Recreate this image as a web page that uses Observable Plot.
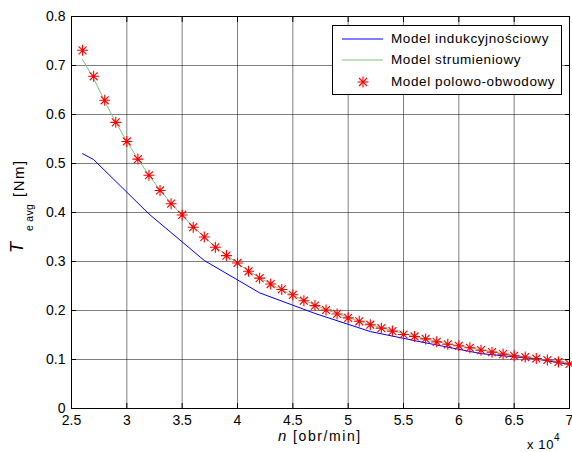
<!DOCTYPE html>
<html>
<head>
<meta charset="utf-8">
<script src="https://cdn.jsdelivr.net/npm/d3@7"></script>
<script src="https://cdn.jsdelivr.net/npm/@observablehq/plot@0.6"></script>
<style>
  html, body { margin: 0; padding: 0; background: #fff; }
  #wrap { position: relative; width: 572px; height: 452px; font-family: "Liberation Sans", Arial, sans-serif; }
  #legend { position: absolute; left: 332px; top: 25px; width: 230px; height: 70px; border: 1px solid #000; background: #fff; box-sizing: border-box; font-size: 13.5px; letter-spacing: 0.6px; color: #000; }
  #legend .row { position: absolute; left: 0; height: 20px; }
  #legend .row span { position: absolute; left: 58px; top: 1px; white-space: nowrap; line-height: 18px; }
</style>
</head>
<body>
<div id="wrap"></div>
<script>
// Speed n (x 10^4 obr/min)
const nRed = [2.6,2.7,2.8,2.9,3.0,3.1,3.2,3.3,3.4,3.5,3.6,3.7,3.8,3.9,4.0,4.1,4.2,4.3,4.4,4.5,4.6,4.7,4.8,4.9,5.0,5.1,5.2,5.3,5.4,5.5,5.6,5.7,5.8,5.9,6.0,6.1,6.2,6.3,6.4,6.5,6.6,6.7,6.8,6.9,7.0];
// Model polowo-obwodowy (stars)
const tRed = [0.731,0.678,0.629,0.584,0.545,0.509,0.476,0.445,0.418,0.395,0.370,0.350,0.329,0.312,0.297,0.280,0.266,0.254,0.243,0.232,0.220,0.210,0.201,0.193,0.185,0.178,0.171,0.164,0.158,0.151,0.147,0.142,0.136,0.131,0.128,0.124,0.119,0.115,0.111,0.1075,0.105,0.102,0.099,0.095,0.091];
// Model strumieniowy (green line)
const nGreen = nRed;
const tGreen = [0.712,0.674,0.627,0.584,0.545,0.509,0.476,0.446,0.419,0.394,0.371,0.350,0.330,0.313,0.296,0.281,0.267,0.254,0.242,0.231,0.221,0.211,0.202,0.194,0.186,0.178,0.171,0.165,0.159,0.153,0.147,0.142,0.137,0.132,0.128,0.124,0.120,0.116,0.112,0.109,0.105,0.102,0.099,0.096,0.093];
// Model indukcyjnościowy (blue line)
const nBlue = [2.6,2.7,3.2,3.7,4.2,4.7,5.2,5.7,6.2,6.7,7.0];
const tBlue = [0.520,0.508,0.397,0.302,0.236,0.194,0.157,0.134,0.112,0.101,0.090];

const xTicks = [2.5,3,3.5,4,4.5,5,5.5,6,6.5,7];
const yTicks = [0,0.1,0.2,0.3,0.4,0.5,0.6,0.7,0.8];
const seriesNames = ["Model indukcyjnościowy","Model strumieniowy","Model polowo-obwodowy"];
const seriesColors = ["#0000ff","#80c080","#ff0000"];

const red = nRed.map((n,i)=>({n, t:tRed[i]}));
const green = nGreen.map((n,i)=>({n, t:tGreen[i]}));
const blue = nBlue.map((n,i)=>({n, t:tBlue[i]}));

const starSymbol = {
  draw(ctx, size) {
    const r = Math.sqrt(size / Math.PI);
    const d = r * 0.72;
    ctx.moveTo(-r, 0); ctx.lineTo(r, 0);
    ctx.moveTo(0, -r); ctx.lineTo(0, r);
    ctx.moveTo(-d, -d); ctx.lineTo(d, d);
    ctx.moveTo(-d, d); ctx.lineTo(d, -d);
  }
};

const fmt = d => String(d);

const chart = Plot.plot({
  width: 572,
  height: 452,
  marginLeft: 71,
  marginRight: 3,
  marginTop: 16,
  marginBottom: 44,
  style: {fontFamily: "'Liberation Sans', Arial, sans-serif", fontSize: "14px", background: "#fff", color: "#000"},
  x: {domain: [2.5, 7]},
  y: {domain: [0, 0.8]},
  marks: [
    Plot.gridX(xTicks, {stroke: "#000", strokeOpacity: 0.5}),
    Plot.gridY(yTicks, {stroke: "#000", strokeOpacity: 0.5}),
    Plot.line(blue, {x: "n", y: "t", stroke: seriesColors[0], strokeWidth: 1}),
    Plot.line(green, {x: "n", y: "t", stroke: seriesColors[1], strokeWidth: 1}),
    Plot.dot(red, {x: "n", y: "t", symbol: starSymbol, r: 5.5, stroke: seriesColors[2], strokeWidth: 1.1, fill: "none"}),
    Plot.axisX(xTicks, {anchor: "bottom", tickSize: -5, tickPadding: 12, tickFormat: fmt, label: null, fontSize: 14}),
    Plot.axisX(xTicks, {anchor: "top", tickSize: -5, tickFormat: () => "", label: null}),
    Plot.axisY(yTicks, {anchor: "left", tickSize: -5, tickPadding: 11, tickFormat: fmt, label: null, fontSize: 14}),
    Plot.axisY(yTicks, {anchor: "right", tickSize: -5, tickFormat: () => "", label: null}),
    Plot.frame({stroke: "#000", strokeWidth: 1})
  ]
});

const wrap = document.getElementById("wrap");
wrap.appendChild(chart);

// Axis labels (rich text)
const svg = d3.select(chart);
const lab = svg.append("g").attr("text-anchor", "start").attr("fill", "#000");
lab.append("text").attr("x", 278).attr("y", 440.5).attr("font-size", 15).attr("font-style", "italic").text("n");
lab.append("text").attr("x", 293).attr("y", 440.5).attr("font-size", 14).attr("letter-spacing", "1.6px").text("[obr/min]");

const ex = lab.append("text").attr("x", 527).attr("y", 449).attr("font-size", 13).attr("letter-spacing", "0.6px");
ex.append("tspan").text("x 10");
ex.append("tspan").attr("dy", -8).attr("font-size", 10).text("4");

const yg = svg.append("g").attr("text-anchor", "start").attr("transform", "translate(23,253) rotate(-90)").attr("fill", "#000");
yg.append("text").attr("x", 0).attr("y", 0).attr("font-size", 18).attr("font-style", "italic").text("T");
yg.append("text").attr("x", 22).attr("y", 10).attr("font-size", 10.5).attr("letter-spacing", "0.3px").text("e avg");
yg.append("text").attr("x", 56).attr("y", 1).attr("font-size", 15).attr("letter-spacing", "1.5px").text("[Nm]");

// Legend
const leg = document.createElement("div");
leg.id = "legend";
const rowsTop = [3, 24, 46];
seriesNames.forEach((name, i) => {
  const row = document.createElement("div");
  row.className = "row";
  row.style.top = rowsTop[i] + "px";
  row.style.width = "100%";
  const s = d3.create("svg").attr("width", 56).attr("height", 20).style("position", "absolute").style("left", "0px").style("top", "0px");
  if (i < 2) {
    s.append("line").attr("x1", 9).attr("x2", 50).attr("y1", 10).attr("y2", 10).attr("stroke", seriesColors[i]).attr("stroke-width", 1);
  } else {
    const g = s.append("g").attr("transform", "translate(30,10)").attr("stroke", seriesColors[i]).attr("stroke-width", 1.1);
    const r = 5.5, d = 4;
    g.append("line").attr("x1", -r).attr("x2", r).attr("y1", 0).attr("y2", 0);
    g.append("line").attr("x1", 0).attr("x2", 0).attr("y1", -r).attr("y2", r);
    g.append("line").attr("x1", -d).attr("x2", d).attr("y1", -d).attr("y2", d);
    g.append("line").attr("x1", -d).attr("x2", d).attr("y1", d).attr("y2", -d);
  }
  row.appendChild(s.node());
  const t = document.createElement("span");
  t.textContent = name;
  row.appendChild(t);
  leg.appendChild(row);
});
wrap.appendChild(leg);
</script>
</body>
</html>
